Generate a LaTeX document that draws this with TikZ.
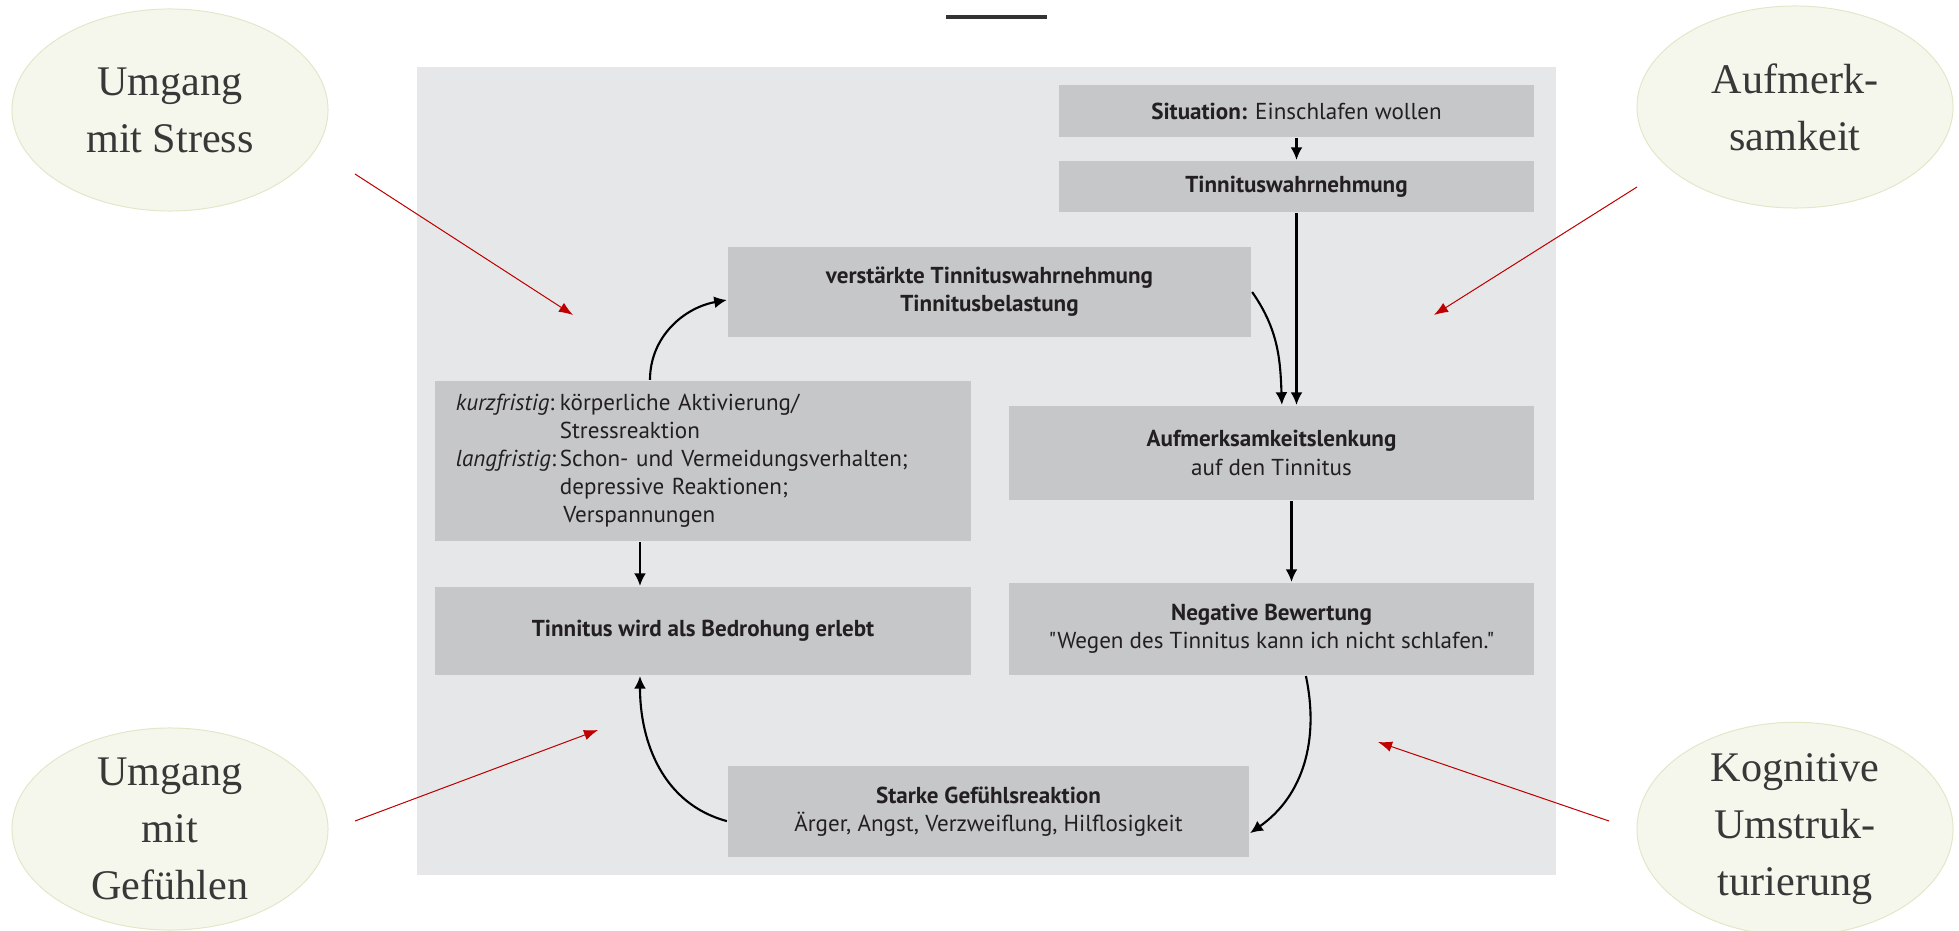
\documentclass[tikz,border=0pt]{standalone}
\usepackage{fontspec}
\usepackage{xcolor}
\usetikzlibrary{shapes.geometric,arrows.meta}
\newfontfamily\boxfont{PT Sans}
\newfontfamily\ovalfont{Liberation Serif}
\definecolor{panelgray}{HTML}{E6E7E8}
\definecolor{boxgray}{HTML}{C6C7C9}
\definecolor{boxtext}{HTML}{231F20}
\definecolor{ovalfill}{HTML}{F6F7EC}
\definecolor{ovalline}{HTML}{E3E6C8}
\definecolor{ovaltext}{HTML}{383838}
\definecolor{hintred}{HTML}{C00000}

\begin{document}
\begin{tikzpicture}[x=0.025cm,y=-0.025cm,>={Latex[length=9pt,width=8.5pt]},line width=1.5pt,
    box/.style={rectangle,fill=boxgray,text=boxtext,inner sep=0pt,align=center,font=\boxfont\fontsize{16.4}{20}\selectfont},
    oval/.style={ellipse,fill=ovalfill,draw=ovalline,line width=0.7pt,minimum width=7.9cm,minimum height=5.05cm,inner sep=0pt,align=center,text=ovaltext,font=\ovalfont\fontsize{30}{40.5}\selectfont},
    hint/.style={-{Latex[length=10pt,width=7.5pt]},draw=hintred,fill=hintred,line width=0.7pt}]

    \useasboundingbox (0,0) rectangle (1959,931);
    \fill[panelgray] (417,67) rectangle (1556,875);
    \draw[line width=2.8pt,black!80] (946,17) -- (1047,17);

    \node[oval] (stress) at (170,110) {Umgang\\mit Stress};
    \node[oval] (aufmerksamkeit) at (1795,107) {Aufmerk-\\samkeit};
    \node[oval] (gefuehle) at (170,829) {Umgang\\mit\\Gefühlen};
    \node[oval] (kognitiv) at (1795,829) {Kognitive\\Umstruk-\\turierung};

    \node[box,minimum width=11.875cm,minimum height=1.3cm] (situation) at (1296.5,111) {\textbf{Situation:} Einschlafen wollen};
    \node[box,minimum width=11.875cm,minimum height=1.275cm] (wahrnehmung) at (1296.5,186.5) {\textbf{Tinnituswahrnehmung}};
    \node[box,minimum width=13.075cm,minimum height=2.25cm] (verstaerkt) at (989.5,292) {\textbf{verstärkte Tinnituswahrnehmung}\\\textbf{Tinnitusbelastung}};
    \node[box,minimum width=13.4cm,minimum height=4cm,align=left,text width=12.35cm] (kurzlang) at (703,461)
        {\begin{tabular}{@{}l@{\,}l@{}}
        \textit{kurzfristig}: & körperliche Aktivierung/\\
         & Stressreaktion\\
        \textit{langfristig}: & Schon- und Vermeidungsverhalten;\\
         & depressive Reaktionen;\\
         & \hspace{0.15em}Verspannungen
        \end{tabular}};
    \node[box,minimum width=13.125cm,minimum height=2.35cm] (lenkung) at (1271.5,453) {\textbf{Aufmerksamkeitslenkung}\\auf den Tinnitus};
    \node[box,minimum width=13.4cm,minimum height=2.2cm] (bedrohung) at (703,631) {\textbf{Tinnitus wird als Bedrohung erlebt}};
    \node[box,minimum width=13.125cm,minimum height=2.3cm] (bewertung) at (1271.5,629) {\textbf{Negative Bewertung}\\"Wegen des Tinnitus kann ich nicht schlafen."};
    \node[box,minimum width=13.025cm,minimum height=2.275cm] (gefuehl) at (988.5,811.5) {\textbf{Starke Gefühlsreaktion}\\Ärger, Angst, Verzweiflung, Hilflosigkeit};

    \draw[->] (situation) -- (wahrnehmung);
    \draw[->] (wahrnehmung) -- (wahrnehmung |- lenkung.north);
    \draw[->] (verstaerkt.east) to[out=-55,in=92] ([xshift=0.26cm]lenkung.north);
    \draw[->] ([xshift=0.5cm]lenkung.south) -- ([xshift=0.5cm]bewertung.north);
    \draw[->] ([xshift=0.86cm]bewertung.south) to[out=-78,in=35] ([yshift=-0.54cm]gefuehl.east);
    \draw[->] ([yshift=-0.24cm]gefuehl.west) to[out=165,in=-90] ([xshift=-1.575cm]bedrohung.south);
    \draw[->] ([xshift=-1.575cm]kurzlang.south) -- ([xshift=-1.575cm]bedrohung.north);
    \draw[->] ([xshift=-1.325cm]kurzlang.north) to[out=90,in=190] ([yshift=-0.2cm]verstaerkt.west);

    \coordinate (stressfrom) at (355,174);
    \coordinate (stressto) at (573,315);
    \coordinate (aufmfrom) at (1637,187);
    \coordinate (aufmto) at (1434,315);
    \coordinate (gefuehlefrom) at (355,821);
    \coordinate (gefuehleto) at (598,730);
    \coordinate (kognfrom) at (1609,821);
    \coordinate (kognto) at (1378,742);

    \draw[hint] (stressfrom) -- (stressto);
    \draw[hint] (aufmfrom) -- (aufmto);
    \draw[hint] (gefuehlefrom) -- (gefuehleto);
    \draw[hint] (kognfrom) -- (kognto);
\end{tikzpicture}
\end{document}
